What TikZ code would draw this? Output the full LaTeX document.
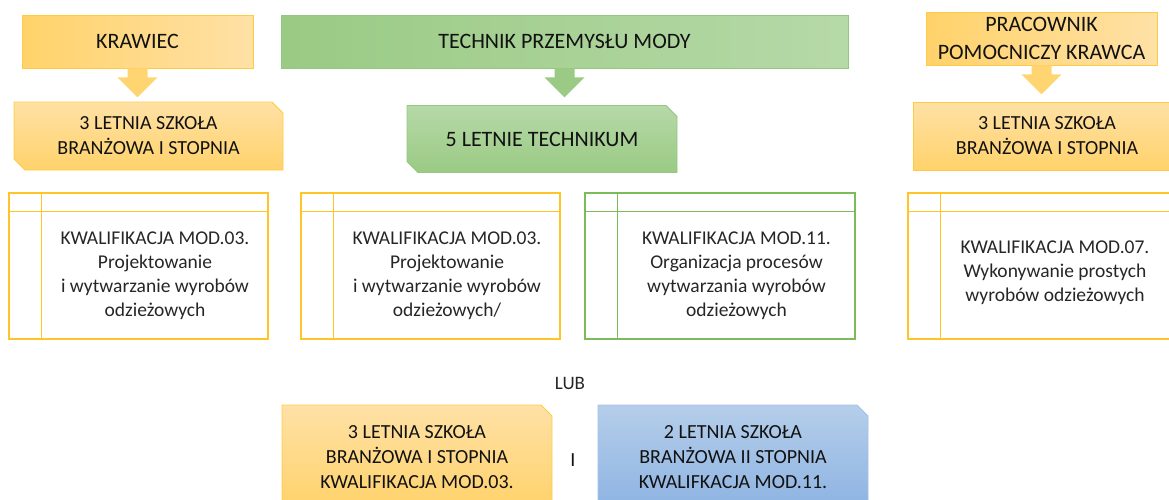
\documentclass[tikz,border=0pt]{standalone}
\usepackage{fontspec}
\setmainfont{Carlito}
\usetikzlibrary{shapes.misc,calc}
\definecolor{orL}{HTML}{FFD26A}
\definecolor{orR}{HTML}{FFE1A6}
\definecolor{orB}{HTML}{FFCB45}
\definecolor{orA}{HTML}{FFD571}
\definecolor{grL}{HTML}{9ACA84}
\definecolor{grR}{HTML}{B6D9A8}
\definecolor{grB}{HTML}{95C77E}
\definecolor{blT}{HTML}{B5CEEA}
\definecolor{blB}{HTML}{8DB3E2}
\definecolor{blD}{HTML}{A3C1E6}
\definecolor{qY}{HTML}{FFC526}
\definecolor{qG}{HTML}{7CBB5A}
\definecolor{txt}{HTML}{121212}
\definecolor{qtxt}{HTML}{262626}
\tikzset{
  hdbox/.style={draw=orB, line width=0.8pt, align=center, text=txt, inner sep=0pt,
    font=\fontsize{22}{28}\selectfont},
  snipbox/.style={chamfered rectangle, chamfered rectangle xsep=5.5pt, chamfered rectangle ysep=5.5pt,
    line width=0.8pt, align=center, text=txt, inner sep=0pt,
    font=\fontsize{20}{25}\selectfont},
  qbox/.style={draw, line width=1.3pt, minimum width=259pt, minimum height=146pt, inner sep=0pt},
  qline/.style={line width=1.3pt},
  qtext/.style={align=center, text=qtxt, font=\fontsize{19.5}{24}\selectfont},
}
\begin{document}
\begin{tikzpicture}[x=1pt,y=-1pt]
\useasboundingbox (0,0) rectangle (1169,499);
\clip (0,0) rectangle (1169,499);

% top headers
\node[hdbox, left color=orL, right color=orR, minimum width=231pt, minimum height=53pt] (kraw) at (137.5,41.5) {KRAWIEC};
\node[hdbox, draw=grB, left color=grL, right color=grR, minimum width=567pt, minimum height=53pt] (tech) at (564.5,41.5) {TECHNIK PRZEMYSŁU MODY};
\node[hdbox, left color=orL, right color=orR, minimum width=231pt, minimum height=53pt] (prac) at (1041.5,38.5) {PRACOWNIK\\POMOCNICZY KRAWCA};

% schools
\node[snipbox, chamfered rectangle corners={north east,south west}, draw=orB, top color=orR, bottom color=orL,
  minimum width=269pt, minimum height=68pt] (lsb) at (148.5,136) {3 LETNIA SZKOŁA\\BRANŻOWA I STOPNIA};
\node[snipbox, chamfered rectangle corners={north east,south west}, draw=grB, top color=grR, bottom color=grL,
  minimum width=270pt, minimum height=67pt, font=\fontsize{22}{27}\selectfont] (tk) at (542,139) {5 LETNIE TECHNIKUM};
\node[snipbox, chamfered rectangle corners={north east,south west}, draw=orB, top color=orR, bottom color=orL,
  minimum width=272pt, minimum height=68pt] (rsb) at (1049,136) {};
\node[align=center, text=txt, font=\fontsize{20}{25}\selectfont] (rsbt) at (1047,136) {3 LETNIA SZKOŁA\\BRANŻOWA I STOPNIA};

% block arrows
\fill[orA] ($(kraw.south)+(-10,0)$) -- ($(kraw.south)+(10,0)$) -- ($(kraw.south)+(10,9)$) -- ($(kraw.south)+(20,9)$)
  -- ($(kraw.south)+(0,29)$) -- ($(kraw.south)+(-20,9)$) -- ($(kraw.south)+(-10,9)$) -- cycle;
\fill[grL] ($(tech.south)+(-10,0)$) -- ($(tech.south)+(10,0)$) -- ($(tech.south)+(10,9)$) -- ($(tech.south)+(20,9)$)
  -- ($(tech.south)+(0,29)$) -- ($(tech.south)+(-20,9)$) -- ($(tech.south)+(-10,9)$) -- cycle;
\fill[orA] ($(prac.south)+(-10,0)$) -- ($(prac.south)+(10,0)$) -- ($(prac.south)+(10,9)$) -- ($(prac.south)+(20,9)$)
  -- ($(prac.south)+(0,29)$) -- ($(prac.south)+(-20,9)$) -- ($(prac.south)+(-10,9)$) -- cycle;

% qualification boxes
\node[qbox, draw=qY] (q1) at (138.5,266) {};
\node[qbox, draw=qY] (q2) at (430.5,266) {};
\node[qbox, draw=qG, minimum width=270pt] (q3) at (720,266) {};
\node[qbox, draw=qY, minimum width=270pt] (q4) at (1043,266) {};
\foreach \q/\c in {q1/qY,q2/qY,q3/qG,q4/qY}{
  \draw[qline, \c] ($(\q.north west)+(0,19)$) -- ($(\q.north east)+(0,19)$);
  \draw[qline, \c] ($(\q.north west)+(33,0)$) -- ($(\q.south west)+(33,0)$);
}
\node[qtext] (q1t) at ($(q1.center)+(16.5,10)$) {KWALIFIKACJA MOD.03.\\Projektowanie\\i wytwarzanie wyrobów\\odzieżowych};
\node[qtext] (q2t) at ($(q2.center)+(16.5,10)$) {KWALIFIKACJA MOD.03.\\Projektowanie\\i wytwarzanie wyrobów\\odzieżowych/};
\node[qtext] (q3t) at ($(q3.center)+(16.5,10)$) {KWALIFIKACJA MOD.11.\\Organizacja procesów\\wytwarzania wyrobów\\odzieżowych};
\node[qtext] (q4t) at ($(q4.center)+(12,7)$) {KWALIFIKACJA MOD.07.\\Wykonywanie prostych\\wyrobów odzieżowych};

% LUB
\node[text=qtxt, font=\fontsize{19}{23}\selectfont] (lub) at (570,383) {LUB};

% bottom boxes
\node[snipbox, chamfered rectangle corners={north east}, draw=orB, top color=orR, bottom color=orL,
  minimum width=270pt, minimum height=104pt] (ob) at (417,457) {3 LETNIA SZKOŁA\\BRANŻOWA I STOPNIA\\KWALIFIKACJA MOD.03.};
\node[snipbox, chamfered rectangle corners={north east}, draw=blD, top color=blT, bottom color=blB,
  minimum width=270pt, minimum height=104pt] (bb) at (733,457) {2 LETNIA SZKOŁA\\BRANŻOWA II STOPNIA\\KWALIFKACJA MOD.11.};
\node[text=txt, font=\fontsize{20}{24}\selectfont] (and) at (573,460) {I};
\end{tikzpicture}
\end{document}
